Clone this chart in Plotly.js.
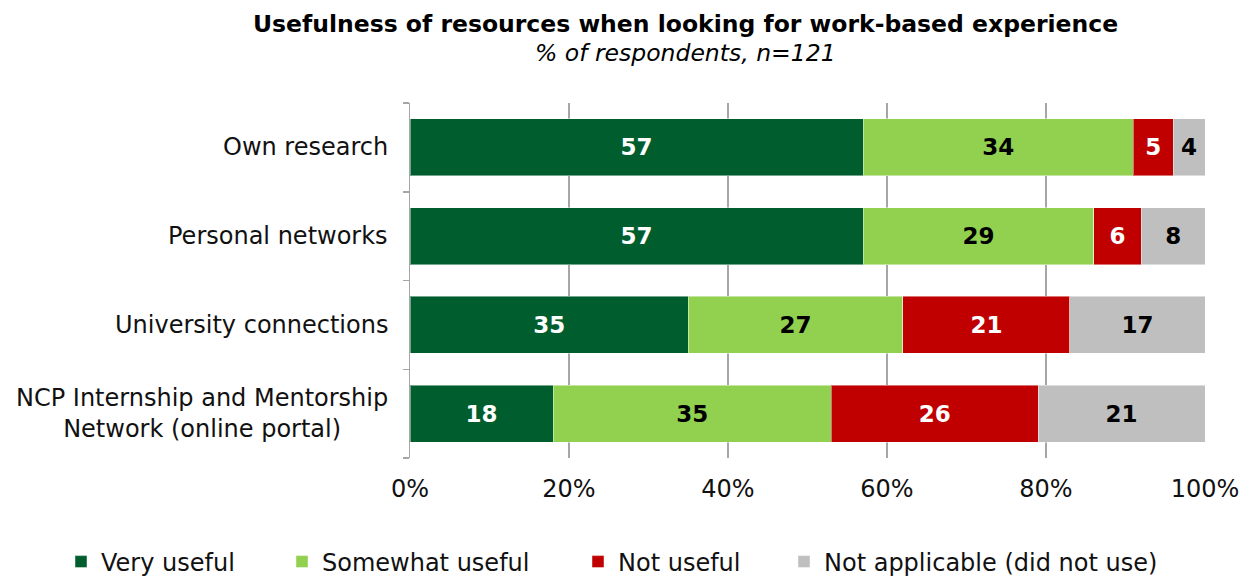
<!DOCTYPE html>
<html>
<head>
<meta charset="utf-8">
<script src="https://cdn.plot.ly/plotly-3.0.1.min.js"></script>
<style>html,body{margin:0;padding:0;background:#fff;}#chart{width:1253px;height:578px;}</style>
</head>
<body>
<div id="chart"></div>
<script>
const categories = ["Own research", "Personal networks", "University connections", "NCP Internship and Mentorship<br>Network (online portal)"];
const seriesNames = ["Very useful", "Somewhat useful", "Not useful", "Not applicable (did not use)"];
const veryUseful = [57, 57, 35, 18];
const somewhatUseful = [34, 29, 27, 35];
const notUseful = [5, 6, 21, 26];
const notApplicable = [4, 8, 17, 21];
const xTickVals = [0, 20, 40, 60, 80, 100];
const xTickText = ["0%", "20%", "40%", "60%", "80%", "100%"];

const colors = ["#005E2E", "#92D050", "#C00000", "#BFBFBF"];
const labelColors = ["#FFFFFF", "#000000", "#FFFFFF", "#000000"];
const values = [veryUseful, somewhatUseful, notUseful, notApplicable];
const legendIds = ["legend", "legend2", "legend3", "legend4"];
const legendLeftPx = [61, 282, 578, 784];
const FONT = "DejaVu Sans, Verdana, sans-serif";
const FS = 24;

const traces = values.map((v, i) => ({
  type: "bar",
  orientation: "h",
  name: seriesNames[i],
  legend: legendIds[i],
  y: categories,
  x: v,
  text: v.map(String),
  textposition: "inside",
  insidetextanchor: "middle",
  textangle: 0,
  constraintext: "none",
  textfont: {family: FONT, size: 23, color: labelColors[i], weight: "bold"},
  marker: {color: colors[i], line: {color: "rgba(255,255,255,0.45)", width: 1}},
  hoverinfo: "skip"
}));

// invisible trace to carry the category-boundary tick axis
traces.push({
  type: "scatter", mode: "markers", x: [0], y: [0], yaxis: "y2",
  marker: {opacity: 0}, showlegend: false, hoverinfo: "skip"
});

const layout = {
  width: 1253, height: 578,
  margin: {l: 410, r: 48, t: 103, b: 120},
  paper_bgcolor: "#fff", plot_bgcolor: "#fff",
  barmode: "stack",
  bargap: 0.36,
  font: {family: FONT, size: FS, color: "#000"},
  xaxis: {
    range: [0, 100], tickvals: xTickVals, ticktext: xTickText,
    showgrid: true, gridcolor: "#A6A6A6", gridwidth: 1.5,
    zeroline: false, showline: false, ticks: "", ticklen: 0,
    ticklabelstandoff: 14,
    tickfont: {family: FONT, size: FS, color: "#111"}
  },
  yaxis: {
    type: "category", categoryorder: "array", categoryarray: categories,
    autorange: "reversed",
    showline: true, linecolor: "#A6A6A6", linewidth: 1.5,
    ticks: "", showgrid: false, zeroline: false, showticklabels: false
  },
  yaxis2: {
    overlaying: "y", side: "left", range: [3.5, -0.5],
    tickvals: [-0.5, 0.5, 1.5, 2.5, 3.5], showticklabels: false,
    ticks: "outside", ticklen: 6, tickcolor: "#A6A6A6", tickwidth: 1.5,
    showgrid: false, zeroline: false, showline: false
  },
  annotations: [
    {text: "<b>Usefulness of resources when looking for work-based experience</b>",
     xref: "paper", yref: "paper", x: (685 - 410) / 795, y: 1 + (103 - 24) / 355,
     xanchor: "center", yanchor: "middle", showarrow: false,
     font: {family: FONT, size: 23.5, color: "#000"}},
    {text: "<i>% of respondents, n=121</i>",
     xref: "paper", yref: "paper", x: (685 - 410) / 795, y: 1 + (103 - 53) / 355,
     xanchor: "center", yanchor: "middle", showarrow: false,
     font: {family: FONT, size: 23.5, color: "#000"}}
  ].concat(categories.map(c => ({
     text: c, xref: "paper", yref: "y", x: 0, y: c, xshift: -20,
     xanchor: "right", yanchor: "middle", align: "center", showarrow: false,
     font: {family: FONT, size: FS, color: "#111"}
  }))),
  showlegend: true
};

legendIds.forEach((id, i) => {
  layout[id] = {
    orientation: "h", xref: "container", x: legendLeftPx[i] / 1253, xanchor: "left",
    yref: "container", y: (578 - 562) / 578, yanchor: "middle",
    font: {family: FONT, size: FS, color: "#111"},
    bgcolor: "rgba(0,0,0,0)", itemwidth: 30
  };
});

Plotly.newPlot("chart", traces, layout, {displayModeBar: false, staticPlot: true});
</script>
</body>
</html>
